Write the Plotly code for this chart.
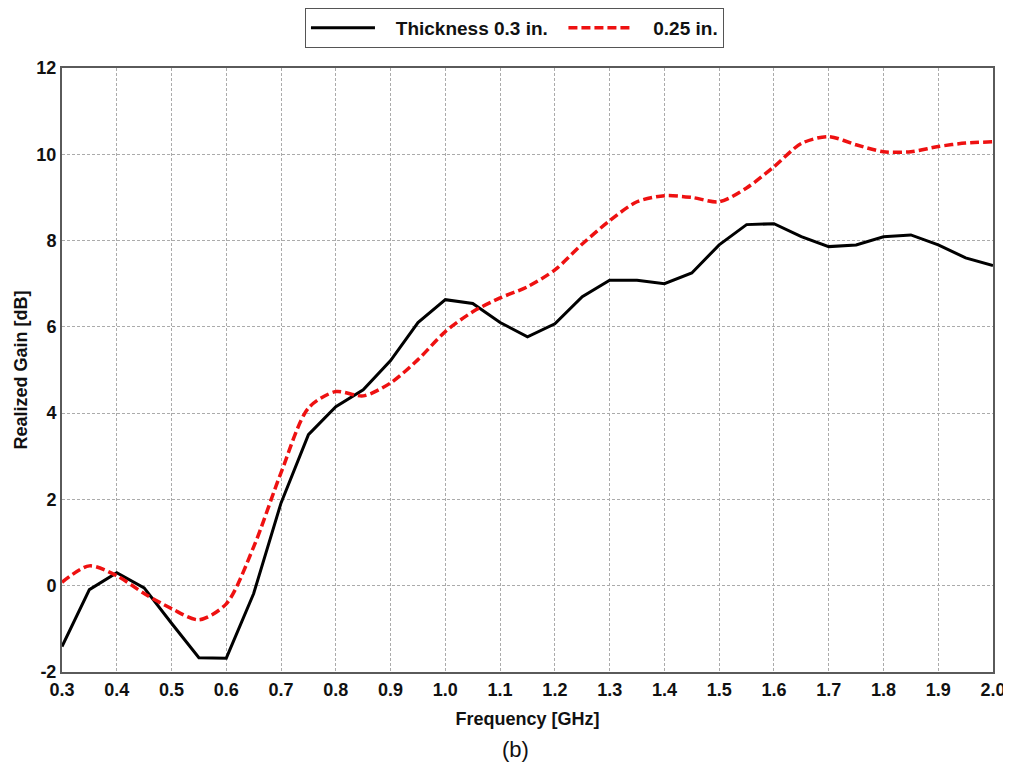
import plotly.graph_objects as go

# Frequency grid [GHz]
freq = [0.30, 0.35, 0.40, 0.45, 0.50, 0.55, 0.60, 0.65, 0.70, 0.75,
        0.80, 0.85, 0.90, 0.95, 1.00, 1.05, 1.10, 1.15, 1.20, 1.25,
        1.30, 1.35, 1.40, 1.45, 1.50, 1.55, 1.60, 1.65, 1.70, 1.75,
        1.80, 1.85, 1.90, 1.95, 2.00]

# Realized gain [dB], thickness 0.3 in.
gain_030 = [-1.41, -0.09, 0.30, -0.05, -0.87, -1.67, -1.68, -0.18, 1.92, 3.50,
            4.15, 4.54, 5.22, 6.10, 6.63, 6.54, 6.10, 5.77, 6.07, 6.70,
            7.08, 7.08, 7.00, 7.25, 7.90, 8.37, 8.39, 8.09, 7.86, 7.90,
            8.09, 8.13, 7.90, 7.60, 7.42]

# Realized gain [dB], thickness 0.25 in.
gain_025 = [0.08, 0.46, 0.23, -0.18, -0.53, -0.79, -0.42, 0.90, 2.62, 4.12,
            4.50, 4.40, 4.70, 5.24, 5.89, 6.35, 6.67, 6.93, 7.32, 7.92,
            8.46, 8.90, 9.04, 9.00, 8.90, 9.22, 9.71, 10.25, 10.41, 10.22,
            10.06, 10.06, 10.18, 10.26, 10.29]

x_ticks = [0.3, 0.4, 0.5, 0.6, 0.7, 0.8, 0.9, 1.0, 1.1, 1.2,
           1.3, 1.4, 1.5, 1.6, 1.7, 1.8, 1.9, 2.0]
y_ticks = [-2, 0, 2, 4, 6, 8, 10, 12]

FONT = "Liberation Sans, Arial, sans-serif"
GRID = "#ababab"
INK = "#111111"
NB = "\u00a0"

fig = go.Figure()

fig.add_trace(go.Scatter(
    x=freq, y=gain_030,
    name=NB * 3 + "Thickness 0.3 in." + NB * 2, mode="lines",
    line=dict(color="black", width=3),
))

fig.add_trace(go.Scatter(
    x=freq, y=gain_025,
    name=NB * 3 + "0.25 in.", mode="lines",
    line=dict(color="#ee1111", width=3.5, dash="9px,4px", shape="spline", smoothing=0.8),
))

axis_common = dict(
    showgrid=True, gridcolor=GRID, griddash="3px,2px", gridwidth=1,
    showline=True, linecolor="#5a5a5a", linewidth=2, mirror=True,
    zeroline=False, ticks="", automargin=False,
    tickfont=dict(family=FONT, size=18, color=INK, weight="bold"),
)

# page body has an 8px margin, so the figure is offset by (8, 8) in the window
fig.update_layout(
    width=1003, height=760,
    paper_bgcolor="white", plot_bgcolor="white",
    margin=dict(l=54, r=18, t=60, b=96),
    font=dict(family=FONT, color=INK),
    showlegend=True,
    legend=dict(
        orientation="h",
        x=0.486, xanchor="center",
        yref="container", y=1.0, yanchor="top",
        bordercolor="#555555", borderwidth=1,
        font=dict(family=FONT, size=19, color=INK, weight="bold"),
        itemwidth=64,
    ),
    xaxis=dict(
        **axis_common,
        range=[0.3, 2.0],
        tickvals=x_ticks,
        ticktext=[f"{v:.1f}" for v in x_ticks],
        title=dict(text="Frequency [GHz]", standoff=14,
                   font=dict(family=FONT, size=18, color=INK, weight="bold")),
    ),
    yaxis=dict(
        **axis_common,
        range=[-2, 12],
        tickvals=y_ticks,
        ticktext=[str(v) for v in y_ticks],
        title=dict(text="Realized Gain [dB]", standoff=4,
                   font=dict(family=FONT, size=18, color=INK, weight="bold")),
    ),
    annotations=[dict(
        text="(b)", xref="paper", yref="paper",
        x=0.487, y=-0.105, xanchor="center", yanchor="top",
        showarrow=False,
        font=dict(family=FONT, size=22, color=INK),
    )],
)

fig.write_html("out.html")
